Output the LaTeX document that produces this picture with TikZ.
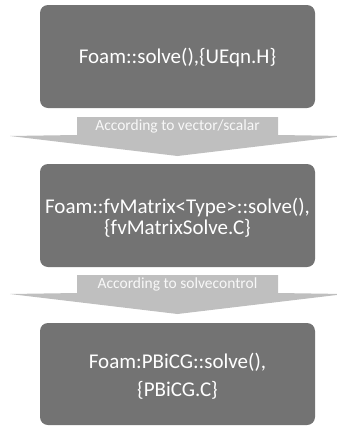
\documentclass[tikz,border=0pt]{standalone}
\usepackage{fontspec}
\setmainfont{Carlito}
\definecolor{boxgray}{RGB}{115,115,115}
\definecolor{arrgray}{RGB}{191,191,191}
\definecolor{arrtext}{RGB}{248,248,248}
\begin{document}
\begin{tikzpicture}[x=1pt,y=-1pt,
  stepbox/.style={fill=boxgray,rounded corners=8pt,draw=none},
  boxtext/.style={text=white,font=\fontsize{21}{21}\selectfont,align=center,inner sep=0pt},
  arrshape/.style={fill=arrgray,draw=none},
  arrlabel/.style={text=arrtext,font=\fontsize{15.5}{17}\selectfont,inner sep=0pt}]
\useasboundingbox (0,0) rectangle (337,426);
% boxes
\path[stepbox] (40,5) rectangle (315,108);
\node[boxtext] (b1) at (177.5,58) {Foam::solve(),\{UEqn.H\}};
\path[stepbox] (40,164) rectangle (315,267);
\node[boxtext,font=\fontsize{21}{21}\selectfont] (b2) at (177.5,218) {Foam::fvMatrix<Type>::solve(),\\\{fvMatrixSolve.C\}};
\path[stepbox] (40,323) rectangle (315,425);
\node[boxtext,font=\fontsize{21}{28}\selectfont] (b3) at (177.5,376) {Foam:PBiCG::solve(),\\\{PBiCG.C\}};
% arrows
\path[arrshape] (77,117) -- (278,117) -- (278,135) -- (345,136) -- (177.5,156) -- (10,136) -- (77,135) -- cycle;
\node[arrlabel] (a1) at (177.5,126.5) {According to vector/scalar};
\path[arrshape] (77,275) -- (278,275) -- (278,293) -- (345,294) -- (177.5,314) -- (10,294) -- (77,293) -- cycle;
\node[arrlabel] (a2) at (177.5,284.5) {According to solvecontrol};
\end{tikzpicture}
\end{document}
